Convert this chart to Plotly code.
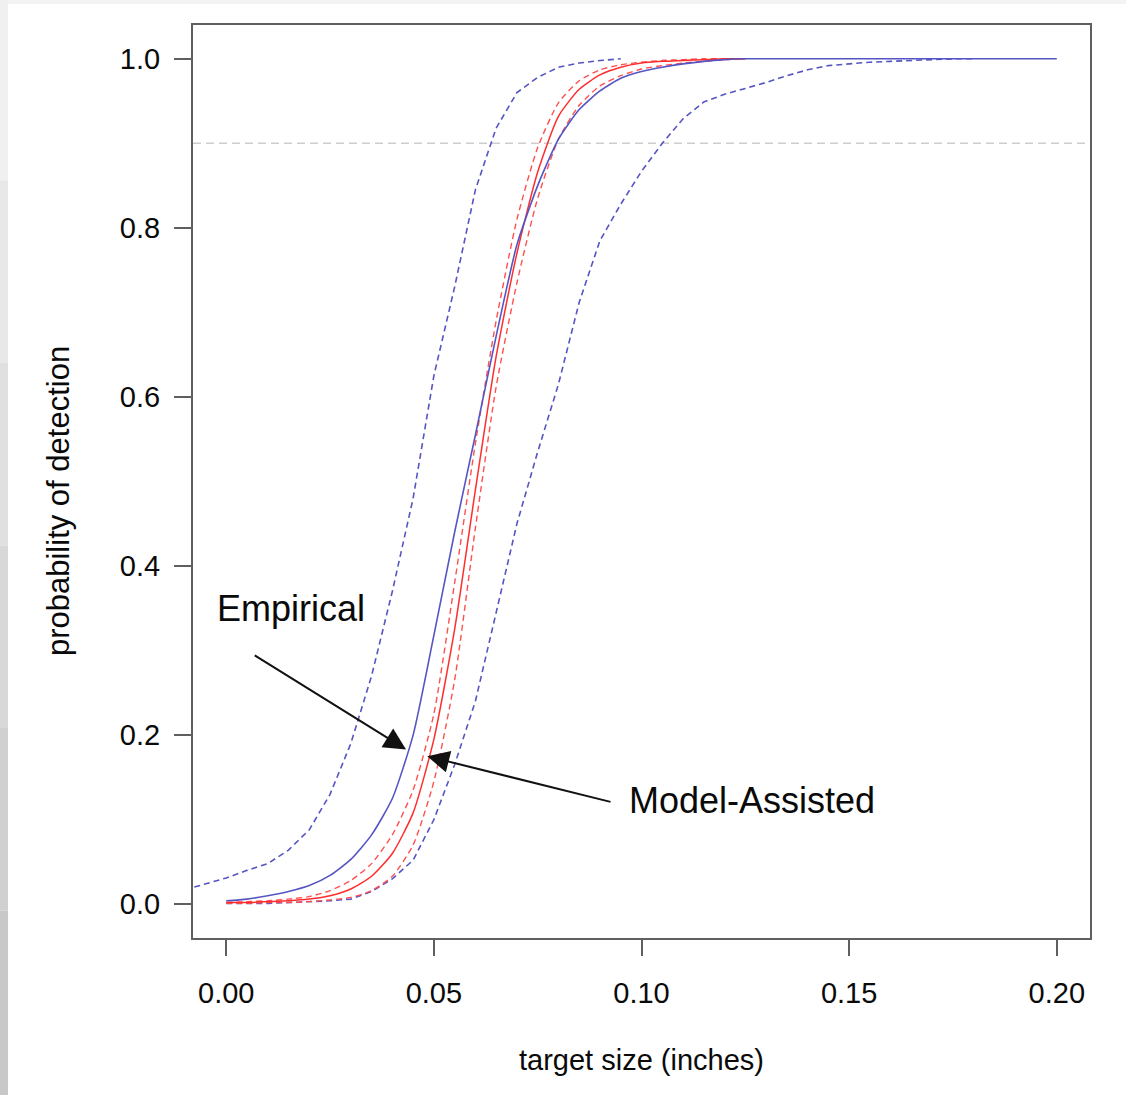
import plotly.graph_objects as go

# ---------------- data ----------------
model_x = [0.000, 0.005, 0.010, 0.015, 0.020, 0.025, 0.030, 0.035, 0.040, 0.045,
           0.050, 0.055, 0.060, 0.065, 0.070, 0.075, 0.080, 0.085, 0.090, 0.095,
           0.100, 0.105, 0.110, 0.115, 0.120, 0.125]
model_fit = [0.002, 0.002, 0.003, 0.004, 0.006, 0.010, 0.018, 0.033, 0.060, 0.108,
             0.195, 0.325, 0.490, 0.648, 0.770, 0.866, 0.932, 0.964, 0.981, 0.990,
             0.995, 0.997, 0.998, 0.999, 1.000, 1.000]
model_upper = [0.002, 0.003, 0.004, 0.006, 0.009, 0.016, 0.028, 0.048, 0.082, 0.135,
               0.225, 0.380, 0.545, 0.690, 0.810, 0.895, 0.948, 0.974, 0.987, 0.993,
               0.996, 0.998, 0.999, 1.000, 1.000, 1.000]
model_lower = [0.001, 0.001, 0.002, 0.002, 0.003, 0.005, 0.008, 0.016, 0.033, 0.070,
               0.145, 0.265, 0.445, 0.612, 0.735, 0.835, 0.905, 0.945, 0.968, 0.980,
               0.988, 0.992, 0.995, 0.997, 0.999, 1.000]

emp_x = [0.000, 0.005, 0.010, 0.015, 0.020, 0.025, 0.030, 0.035, 0.040, 0.045,
         0.050, 0.055, 0.060, 0.065, 0.070, 0.075, 0.080, 0.085, 0.090, 0.095,
         0.100, 0.105, 0.110, 0.115, 0.120, 0.125, 0.200]
emp_fit = [0.004, 0.006, 0.010, 0.015, 0.022, 0.034, 0.053, 0.082, 0.125, 0.200,
           0.318, 0.440, 0.555, 0.672, 0.780, 0.850, 0.905, 0.940, 0.962, 0.977,
           0.985, 0.990, 0.994, 0.997, 0.999, 1.000, 1.000]

emp_upper_x = [-0.010, 0.000, 0.005, 0.010, 0.015, 0.020, 0.025, 0.030, 0.035, 0.040,
               0.045, 0.050, 0.055, 0.060, 0.065, 0.070, 0.075, 0.080, 0.085, 0.090,
               0.095]
emp_upper = [0.017, 0.031, 0.040, 0.048, 0.064, 0.088, 0.130, 0.190, 0.270, 0.370,
             0.480, 0.625, 0.730, 0.845, 0.918, 0.960, 0.978, 0.990, 0.995, 0.998,
             1.000]

emp_lower_x = [0.000, 0.005, 0.010, 0.015, 0.020, 0.025, 0.030, 0.035, 0.040, 0.045,
               0.050, 0.055, 0.060, 0.065, 0.070, 0.075, 0.080, 0.085, 0.090, 0.095,
               0.100, 0.105, 0.110, 0.115, 0.120, 0.125, 0.130, 0.135, 0.140, 0.145,
               0.150, 0.155, 0.160, 0.165, 0.170, 0.175, 0.180]
emp_lower = [0.001, 0.001, 0.001, 0.002, 0.003, 0.004, 0.006, 0.015, 0.030, 0.052,
             0.100, 0.165, 0.240, 0.345, 0.450, 0.535, 0.615, 0.712, 0.785, 0.828,
             0.867, 0.900, 0.929, 0.949, 0.958, 0.965, 0.972, 0.980, 0.987, 0.992,
             0.994, 0.996, 0.997, 0.998, 0.999, 1.000, 1.000]

x_ticks = [0.00, 0.05, 0.10, 0.15, 0.20]
x_tick_text = ["0.00", "0.05", "0.10", "0.15", "0.20"]
y_ticks = [0.0, 0.2, 0.4, 0.6, 0.8, 1.0]
y_tick_text = ["0.0", "0.2", "0.4", "0.6", "0.8", "1.0"]
reference_level = 0.9

# ---------------- styling ----------------
FONT = "Liberation Sans, Arial, sans-serif"
BLUE = "rgb(85,85,195)"
RED_SOLID = "rgb(255,45,45)"
RED_DASH = "rgb(255,80,80)"
DASH = "6px,4px"
TEXT = "#0a0a0a"

fig = go.Figure()

fig.add_trace(go.Scatter(x=emp_upper_x, y=emp_upper, mode="lines",
                         line=dict(color=BLUE, width=1.6, dash=DASH)))
fig.add_trace(go.Scatter(x=emp_lower_x, y=emp_lower, mode="lines",
                         line=dict(color=BLUE, width=1.6, dash=DASH)))
fig.add_trace(go.Scatter(x=model_x, y=model_upper, mode="lines",
                         line=dict(color=RED_DASH, width=1.4, dash=DASH, shape="spline", smoothing=0.6)))
fig.add_trace(go.Scatter(x=model_x, y=model_lower, mode="lines",
                         line=dict(color=RED_DASH, width=1.4, dash=DASH, shape="spline", smoothing=0.6)))
fig.add_trace(go.Scatter(x=model_x, y=model_fit, mode="lines",
                         line=dict(color=RED_SOLID, width=1.5, shape="spline", smoothing=0.6)))
fig.add_trace(go.Scatter(x=emp_x, y=emp_fit, mode="lines",
                         line=dict(color=BLUE, width=1.6, shape="spline", smoothing=0.6)))

shapes = [
    # horizontal reference line at 0.9
    dict(type="line", xref="paper", x0=0, x1=1, yref="y", y0=reference_level, y1=reference_level,
         line=dict(color="rgb(205,205,205)", width=1.5, dash="8px,5px"), layer="below"),
    # screenshot frame: top strip
    dict(type="rect", xref="paper", yref="paper", x0=-0.2152, x1=1.0402, y0=1.023, y1=1.0274,
         fillcolor="rgb(243,243,243)", line=dict(width=0), layer="below"),
]
# screenshot frame: left strip, light at top to darker at bottom
strip_greys = [240, 232, 224, 216, 208, 200]
strip_edges = [1.0274, 0.83, 0.63, 0.43, 0.23, 0.03, -0.172]
for i, g in enumerate(strip_greys):
    shapes.append(dict(type="rect", xref="paper", yref="paper", x0=-0.2152, x1=-0.2062,
                       y0=strip_edges[i + 1], y1=strip_edges[i],
                       fillcolor=f"rgb({g},{g},{g})", line=dict(width=0), layer="below"))

annotations = [
    dict(x=0.0433, y=0.183, ax=0.0065, ay=0.2955, xref="x", yref="y", axref="x", ayref="y",
         text="", showarrow=True, arrowhead=2, arrowsize=2.2, arrowwidth=2, arrowcolor="#111111"),
    dict(x=0.0484, y=0.175, ax=0.0929, ay=0.1206, xref="x", yref="y", axref="x", ayref="y",
         text="", showarrow=True, arrowhead=2, arrowsize=2.2, arrowwidth=2, arrowcolor="#111111"),
    dict(x=-0.0027, y=0.35, xref="x", yref="y", text="Empirical", showarrow=False,
         xanchor="left", yanchor="middle", font=dict(family=FONT, size=36, color=TEXT)),
    dict(x=0.0965, y=0.123, xref="x", yref="y", text="Model-Assisted", showarrow=False,
         xanchor="left", yanchor="middle", font=dict(family=FONT, size=36, color=TEXT)),
    dict(x=0.5, y=-0.1336, xref="paper", yref="paper", text="target size (inches)",
         showarrow=False, xanchor="center", yanchor="middle",
         font=dict(family=FONT, size=29, color=TEXT)),
    dict(x=-0.1505, y=0.4786, xref="paper", yref="paper", text="probability of detection",
         showarrow=False, textangle=-90, xanchor="center", yanchor="middle",
         font=dict(family=FONT, size=31, color=TEXT)),
]

fig.update_layout(
    width=1126, height=1095,
    margin=dict(l=193, r=36, t=25, b=157),
    paper_bgcolor="white", plot_bgcolor="white",
    showlegend=False,
    shapes=shapes, annotations=annotations,
    font=dict(family=FONT, color=TEXT),
)
fig.update_xaxes(range=[-0.008, 0.208], tickvals=x_ticks, ticktext=x_tick_text,
                 showgrid=False, zeroline=False, showline=True, mirror=True,
                 linecolor="rgb(95,95,95)", linewidth=2,
                 ticks="outside", ticklen=16, tickwidth=2, tickcolor="rgb(95,95,95)",
                 ticklabelstandoff=12,
                 tickfont=dict(family=FONT, size=29, color=TEXT))
fig.update_yaxes(range=[-0.04, 1.04], tickvals=y_ticks, ticktext=y_tick_text,
                 showgrid=False, zeroline=False, showline=True, mirror=True,
                 linecolor="rgb(95,95,95)", linewidth=2,
                 ticks="outside", ticklen=17, tickwidth=2, tickcolor="rgb(95,95,95)",
                 ticklabelstandoff=8,
                 tickfont=dict(family=FONT, size=29, color=TEXT))

fig.write_html("out.html")
